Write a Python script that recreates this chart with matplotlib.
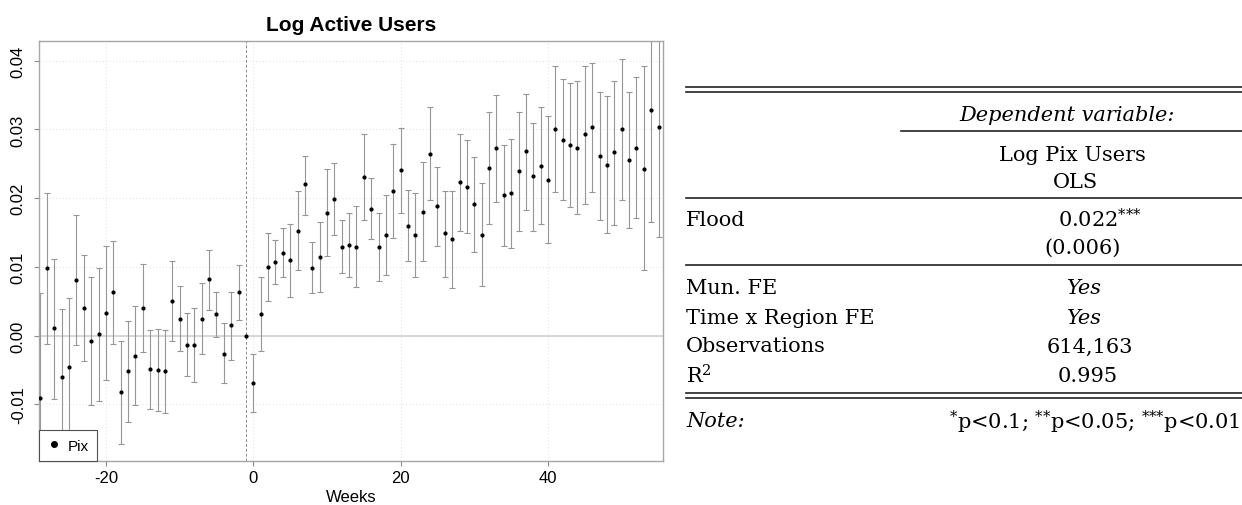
import numpy as np
import matplotlib
matplotlib.use("Agg")
import matplotlib.pyplot as plt
from matplotlib.lines import Line2D

plt.rcParams['font.family'] = ['Liberation Sans', 'DejaVu Sans']
plt.rcParams['mathtext.fontset'] = 'dejavuserif'

# Event-study estimates (week -1 is the reference)
weeks = list(range(-29, 56))
estimate = [
    -0.0090, 0.0098, 0.0011, -0.0060, -0.0045, 0.0081, 0.0040, -0.0008, 0.0002, 0.0033,
    0.0063, -0.0082, -0.0052, -0.0029, 0.0041, -0.0049, -0.0050, -0.0052, 0.0050, 0.0025,
    -0.0013, -0.0014, 0.0024, 0.0082, 0.0032, -0.0026, 0.0015, 0.0063, 0.0000, -0.0069,
    0.0031, 0.0100, 0.0107, 0.0121, 0.0110, 0.0153, 0.0220, 0.0099, 0.0115, 0.0179,
    0.0199, 0.0129, 0.0132, 0.0129, 0.0231, 0.0185, 0.0129, 0.0147, 0.0210, 0.0241,
    0.0160, 0.0146, 0.0180, 0.0264, 0.0189, 0.0149, 0.0140, 0.0223, 0.0217, 0.0191,
    0.0147, 0.0244, 0.0273, 0.0205, 0.0207, 0.0239, 0.0268, 0.0232, 0.0247, 0.0227,
    0.0301, 0.0285, 0.0277, 0.0273, 0.0293, 0.0303, 0.0262, 0.0248, 0.0267, 0.0301,
    0.0256, 0.0273, 0.0243, 0.0329, 0.0304,
]
ci_low = [
    -0.0240, -0.0012, -0.0092, -0.0159, -0.0143, -0.0014, -0.0037, -0.0101, -0.0095, -0.0065,
    -0.0012, -0.0157, -0.0126, -0.0101, -0.0024, -0.0107, -0.0110, -0.0113, -0.0008, -0.0023,
    -0.0059, -0.0067, -0.0027, 0.0038, -0.0002, -0.0069, -0.0036, 0.0023, np.nan, -0.0111,
    -0.0023, 0.0050, 0.0075, 0.0086, 0.0056, 0.0095, 0.0176, 0.0062, 0.0064, 0.0116,
    0.0146, 0.0091, 0.0086, 0.0071, 0.0168, 0.0140, 0.0080, 0.0088, 0.0142, 0.0179,
    0.0108, 0.0085, 0.0109, 0.0197, 0.0131, 0.0086, 0.0070, 0.0152, 0.0149, 0.0122,
    0.0073, 0.0163, 0.0195, 0.0131, 0.0127, 0.0153, 0.0183, 0.0153, 0.0162, 0.0135,
    0.0209, 0.0197, 0.0187, 0.0177, 0.0192, 0.0209, 0.0168, 0.0149, 0.0161, 0.0198,
    0.0157, 0.0171, 0.0096, 0.0166, 0.0143,
]
ci_high = [
    0.0062, 0.0208, 0.0112, 0.0039, 0.0055, 0.0176, 0.0117, 0.0086, 0.0099, 0.0131,
    0.0138, -0.0008, 0.0022, 0.0043, 0.0105, 0.0009, 0.0010, 0.0008, 0.0108, 0.0073,
    0.0033, 0.0040, 0.0076, 0.0125, 0.0064, 0.0018, 0.0064, 0.0103, np.nan, -0.0027,
    0.0085, 0.0149, 0.0139, 0.0156, 0.0163, 0.0210, 0.0262, 0.0137, 0.0165, 0.0242,
    0.0251, 0.0168, 0.0178, 0.0188, 0.0293, 0.0230, 0.0178, 0.0205, 0.0279, 0.0302,
    0.0212, 0.0207, 0.0252, 0.0332, 0.0245, 0.0211, 0.0210, 0.0294, 0.0285, 0.0260,
    0.0222, 0.0325, 0.0350, 0.0278, 0.0286, 0.0326, 0.0352, 0.0310, 0.0333, 0.0320,
    0.0393, 0.0373, 0.0368, 0.0370, 0.0393, 0.0397, 0.0355, 0.0348, 0.0371, 0.0403,
    0.0354, 0.0376, 0.0392, 0.0492, 0.0465,
]
ref_week = -1

xticks = [-20, 0, 20, 40]
xtick_labels = ["-20", "0", "20", "40"]
yticks = [-0.01, 0.0, 0.01, 0.02, 0.03, 0.04]
ytick_labels = ["-0.01", "0.00", "0.01", "0.02", "0.03", "0.04"]

# Regression table text
row_labels = ["Mun. FE", "Time x Region FE", "Observations", "R$^2$"]
row_values = ["Yes", "Yes", "614,163", "0.995"]
coef_label = "Flood"
coef_value = r"0.022$^{\text{***}}$"
coef_se = "(0.006)"
note_text = r"$^{\text{*}}$p<0.1; $^{\text{**}}$p<0.05; $^{\text{***}}$p<0.01"

W, H = 1242, 506
fig = plt.figure(figsize=(W / 100, H / 100), dpi=100)

# ---- event study panel ----
ax = fig.add_axes([39 / W, 1 - 462 / H, 624 / W, 420 / H])

w = np.array(weeks)
est = np.array(estimate)
lo = np.array(ci_low)
hi = np.array(ci_high)
ok = ~np.isnan(lo)

ax.axhline(0, color='#d4d4d4', linewidth=1.3, zorder=1)
ax.axvline(ref_week, color='#8a8a8a', linewidth=0.7, linestyle=(0, (3, 2)), zorder=1)
ax.errorbar(w[ok], est[ok], yerr=[est[ok] - lo[ok], hi[ok] - est[ok]], fmt='none',
            ecolor='#969696', elinewidth=0.8, capsize=2.2, capthick=0.8, zorder=2)
ax.plot(w, est, 'o', color='black', markersize=2.0, zorder=3)

ax.set_xlim(-29.09, 55.61)
ax.set_ylim(-0.01823, 0.04287)
ax.set_xticks(xticks, xtick_labels)
ax.set_yticks(yticks, ytick_labels)
for lab in ax.get_yticklabels():
    lab.set_rotation(90)
    lab.set_va('center')
ax.tick_params(axis='both', labelsize=12, length=3.5, color='#8a8a8a', width=0.8)
ax.tick_params(axis='y', pad=6)
ax.tick_params(axis='x', pad=3)
ax.grid(True, color='#e6e6e6', linestyle=(0, (1, 2)), linewidth=0.8)
ax.set_axisbelow(True)
for sp in ax.spines.values():
    sp.set_color('#a6a6a6')
    sp.set_linewidth(1.0)

ax.set_title("Log Active Users", fontsize=15, fontweight='bold', pad=8)
ax.set_xlabel("Weeks", fontsize=12, labelpad=3)

handle = Line2D([], [], marker='o', color='black', linestyle='none', markersize=4, label='Pix')
leg = ax.legend(handles=[handle], loc='lower left', borderaxespad=0, fancybox=False,
                edgecolor='#505050', framealpha=1, fontsize=11, handlelength=0.9,
                handletextpad=0.4, borderpad=0.55)
leg.get_frame().set_linewidth(0.8)

# ---- regression table ----
tab = fig.add_axes([0, 0, 1, 1])
tab.set_xlim(0, W)
tab.set_ylim(H, 0)
tab.axis('off')

serif = ['DejaVu Serif']
fs = 15
lc = '#222222'
lw = 1.2
x0, x1 = 686, 1242

for y in [87.5, 92.5, 198.5, 266, 393.5, 399]:
    tab.plot([x0, x1], [y, y], color=lc, linewidth=lw)
tab.plot([901, x1], [131.5, 131.5], color=lc, linewidth=lw)

tab.text(1067, 115, "Dependent variable:", family=serif, style='italic', fontsize=fs,
         ha='center', va='center')
tab.text(1072, 155, "Log Pix Users", family=serif, fontsize=fs, ha='center', va='center')
tab.text(1075, 182, "OLS", family=serif, fontsize=fs, ha='center', va='center')

tab.text(x0, 220, coef_label, family=serif, fontsize=fs, ha='left', va='center')
tab.text(1058, 220, coef_value, family=serif, fontsize=fs, ha='left', va='center')
tab.text(1083, 248, coef_se, family=serif, fontsize=fs, ha='center', va='center')

row_y = [289, 318, 347, 376]
row_x = [1084, 1084, 1090, 1088]
for lab, val, y, xc in zip(row_labels, row_values, row_y, row_x):
    tab.text(x0, y, lab, family=serif, fontsize=fs, ha='left', va='center')
    tab.text(xc, y, val, family=serif, fontsize=fs, ha='center', va='center',
             style='italic' if val == "Yes" else 'normal')

tab.text(x0, 422, "Note:", family=serif, style='italic', fontsize=fs, ha='left', va='center')
tab.text(1240, 422, note_text, family=serif, fontsize=fs, ha='right', va='center')

fig.savefig("out.png", dpi=100)
